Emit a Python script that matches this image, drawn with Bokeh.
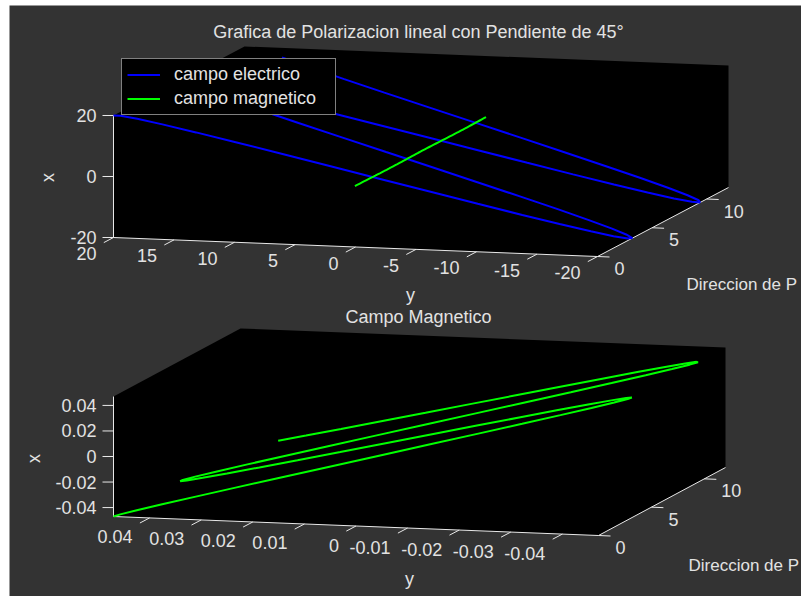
import numpy as np
from bokeh.plotting import figure
from bokeh.models import Range1d, Legend, LegendItem
from bokeh.embed import file_html
from bokeh.resources import INLINE
from bokeh.core.properties import value

# ---------------- data ----------------
z = [0.0, 0.2, 0.4, 0.6, 0.8, 1.0, 1.2, 1.4, 1.6, 1.8, 2.0, 2.2, 2.4, 2.6, 2.8,
     3.0, 3.2, 3.4, 3.6, 3.8, 4.0, 4.2, 4.4, 4.6, 4.8, 5.0, 5.2, 5.4, 5.6, 5.8,
     6.0, 6.2, 6.4, 6.6, 6.8, 7.0, 7.2, 7.4, 7.6, 7.8, 8.0, 8.2, 8.4, 8.6, 8.8,
     9.0, 9.2, 9.4, 9.6, 9.8, 10.0, 10.2, 10.4, 10.6, 10.8, 11.0, 11.2, 11.4,
     11.6, 11.8, 12.0]

# electric field (x = vertical axis, y = horizontal axis)
e_x = [20.0, 19.6, 18.4, 16.5, 13.9, 10.8, 7.2, 3.4, -0.6, -4.5, -8.3, -11.8,
       -14.7, -17.1, -18.8, -19.8, -20.0, -19.3, -17.9, -15.8, -13.1, -9.8,
       -6.1, -2.2, 1.8, 5.7, 9.4, 12.7, 15.5, 17.7, 19.2, 19.9, 19.9, 19.0,
       17.4, 15.1, 12.2, 8.8, 5.0, 1.1, -2.9, -6.8, -10.4, -13.6, -16.2, -18.2,
       -19.5, -20.0, -19.7, -18.6, -16.8, -14.3, -11.2, -7.7, -3.9, 0.1, 4.1,
       7.9, 11.4, 14.4, 16.9]
e_y = [20.0, 19.6, 18.4, 16.5, 13.9, 10.8, 7.2, 3.4, -0.6, -4.5, -8.3, -11.8,
       -14.7, -17.1, -18.8, -19.8, -20.0, -19.3, -17.9, -15.8, -13.1, -9.8,
       -6.1, -2.2, 1.8, 5.7, 9.4, 12.7, 15.5, 17.7, 19.2, 19.9, 19.9, 19.0,
       17.4, 15.1, 12.2, 8.8, 5.0, 1.1, -2.9, -6.8, -10.4, -13.6, -16.2, -18.2,
       -19.5, -20.0, -19.7, -18.6, -16.8, -14.3, -11.2, -7.7, -3.9, 0.1, 4.1,
       7.9, 11.4, 14.4, 16.9]

# magnetic field
b_x = [-0.0470, -0.0461, -0.0433, -0.0388, -0.0327, -0.0254, -0.0170, -0.0080,
       0.0014, 0.0107, 0.0196, 0.0277, 0.0347, 0.0403, 0.0443, 0.0465, 0.0469,
       0.0454, 0.0421, 0.0372, 0.0307, 0.0230, 0.0144, 0.0053, -0.0041,
       -0.0133, -0.0220, -0.0298, -0.0365, -0.0416, -0.0451, -0.0468, -0.0467,
       -0.0447, -0.0409, -0.0354, -0.0286, -0.0206, -0.0118, -0.0025, 0.0068,
       0.0159, 0.0244, 0.0319, 0.0381, 0.0428, 0.0458, 0.0470, 0.0463, 0.0437,
       0.0394, 0.0336, 0.0264, 0.0181, 0.0091, -0.0002, -0.0095, -0.0185,
       -0.0267, -0.0339, -0.0397]
b_y = [0.0470, 0.0461, 0.0433, 0.0388, 0.0327, 0.0254, 0.0170, 0.0080,
       -0.0014, -0.0107, -0.0196, -0.0277, -0.0347, -0.0403, -0.0443, -0.0465,
       -0.0469, -0.0454, -0.0421, -0.0372, -0.0307, -0.0230, -0.0144, -0.0053,
       0.0041, 0.0133, 0.0220, 0.0298, 0.0365, 0.0416, 0.0451, 0.0468, 0.0467,
       0.0447, 0.0409, 0.0354, 0.0286, 0.0206, 0.0118, 0.0025, -0.0068,
       -0.0159, -0.0244, -0.0319, -0.0381, -0.0428, -0.0458, -0.0470, -0.0463,
       -0.0437, -0.0394, -0.0336, -0.0264, -0.0181, -0.0091, 0.0002, 0.0095,
       0.0185, 0.0267, 0.0339, 0.0397]

# ticks
top_x_ticks = [-20, 0, 20]
top_x_labels = ["-20", "0", "20"]
top_y_ticks = [20, 15, 10, 5, 0, -5, -10, -15, -20]
top_y_labels = ["20", "15", "10", "5", "0", "-5", "-10", "-15", "-20"]
bot_x_ticks = [-0.04, -0.02, 0, 0.02, 0.04]
bot_x_labels = ["-0.04", "-0.02", "0", "0.02", "0.04"]
bot_y_ticks = [0.04, 0.03, 0.02, 0.01, 0, -0.01, -0.02, -0.03, -0.04]
bot_y_labels = ["0.04", "0.03", "0.02", "0.01", "0", "-0.01", "-0.02", "-0.03", "-0.04"]
z_ticks = [0, 5, 10]
z_labels = ["0", "5", "10"]

# ---------------- styling / layout ----------------
BG = "#333333"
TXT = "#e2e2e2"
AXC = "#e8e8e8"
FONT = "Liberation Sans"
FS = "18px"

TOP = dict(p0=(113, 237), u=(484, 19), v=(0, -122), w=(131, -69),
           ylim=(-20, 20), xlim=(-20, 20), zlim=(0, 12))
BOT = dict(p0=(113, 516), u=(485, 19), v=(0, -120), w=(127, -68),
           ylim=(-0.047, 0.047), xlim=(-0.047, 0.047), zlim=(0, 12))


def proj(ax, Y, X, Z):
    Y = np.asarray(Y, float)
    X = np.asarray(X, float)
    Z = np.asarray(Z, float)
    fy = (ax["ylim"][1] - Y) / (ax["ylim"][1] - ax["ylim"][0])
    fx = (X - ax["xlim"][0]) / (ax["xlim"][1] - ax["xlim"][0])
    fz = (Z - ax["zlim"][0]) / (ax["zlim"][1] - ax["zlim"][0])
    sx = ax["p0"][0] + fy * ax["u"][0] + fx * ax["v"][0] + fz * ax["w"][0]
    sy = ax["p0"][1] + fy * ax["u"][1] + fx * ax["v"][1] + fz * ax["w"][1]
    return sx, sy


p = figure(width=801, height=596, x_range=Range1d(9, 801), y_range=Range1d(596, 5),
           output_backend="svg", toolbar_location=None,
           x_axis_type=None, y_axis_type=None,
           min_border_left=9, min_border_top=5, min_border_right=0, min_border_bottom=0,
           background_fill_color=BG, border_fill_color="white", outline_line_color=None)
p.grid.visible = False


def txt(xs, ys, texts, align, angle=0.0, size=FS):
    p.text(x=list(xs), y=list(ys), text=list(texts), text_align=align,
           text_baseline="middle", text_color=TXT, text_font=value(FONT),
           text_font_size=size, angle=angle)


def draw_axes(ax, xt, xl, yt, yl, ylab_dy):
    y0, y1 = ax["ylim"]
    x0, x1 = ax["xlim"]
    z0, z1 = ax["zlim"]
    cy = [y1, y1, y1, y0, y0, y0]
    cx = [x0, x1, x1, x1, x0, x0]
    cz = [z0, z0, z1, z1, z1, z0]
    hx, hy = proj(ax, cy, cx, cz)
    p.patch(list(hx), list(hy), fill_color="black", line_color=None)
    # axis lines
    ax_y = [y1, y1, y0, y0]
    ax_x = [x1, x0, x0, x0]
    ax_z = [z0, z0, z0, z1]
    lx, ly = proj(ax, ax_y, ax_x, ax_z)
    p.line(list(lx), list(ly), line_color=AXC, line_width=1)
    # vertical ticks
    sx, sy = proj(ax, [y1] * len(xt), xt, [z0] * len(xt))
    p.segment(list(sx), list(sy), list(sx - 11), list(sy), line_color=AXC, line_width=1)
    txt(sx - 17, sy, xl, "right")
    # horizontal (y) ticks
    sx, sy = proj(ax, yt, [x0] * len(yt), [z0] * len(yt))
    p.segment(list(sx), list(sy), list(sx - 9.7), list(sy + 5.1), line_color=AXC, line_width=1)
    txt(sx - 17, sy + ylab_dy, yl, "right")
    # depth ticks
    sx, sy = proj(ax, [y0] * len(z_ticks), [x0] * len(z_ticks), z_ticks)
    p.segment(list(sx), list(sy), list(sx + 12), list(sy + 0.5), line_color=AXC, line_width=1)
    txt(sx + 17, sy + 12, z_labels, "left")


draw_axes(TOP, top_x_ticks, top_x_labels, top_y_ticks, top_y_labels, 16)
draw_axes(BOT, bot_x_ticks, bot_x_labels, bot_y_ticks, bot_y_labels, 19)

# top plot curves
ex_s, ey_s = proj(TOP, e_y, e_x, z)
r_e = p.line(list(ex_s), list(ey_s), line_color="#0000ff", line_width=2)
bx_s, by_s = proj(TOP, b_y, b_x, z)
r_b = p.line(list(bx_s), list(by_s), line_color="#00ff00", line_width=2)

# bottom plot curve
bx2, by2 = proj(BOT, b_y, b_x, z)
p.line(list(bx2), list(by2), line_color="#00ff00", line_width=2)

# titles & axis labels
txt([418], [31], ["Grafica de Polarizacion lineal con Pendiente de 45°"], "center")
txt([418], [316], ["Campo Magnetico"], "center")
txt([47], [177], ["x"], "center", angle=np.pi / 2)
txt([33], [458], ["x"], "center", angle=np.pi / 2)
txt([410], [294], ["y"], "center")
txt([409], [578], ["y"], "center")
txt([686], [284], ["Direccion de P"], "left", size="17px")
txt([688], [565], ["Direccion de P"], "left", size="17px")

legend = Legend(items=[LegendItem(label="campo electrico", renderers=[r_e]),
                       LegendItem(label="campo magnetico", renderers=[r_b])],
                location=(112, 481), orientation="vertical",
                background_fill_color="black", background_fill_alpha=1.0,
                border_line_color="white", border_line_width=1,
                label_text_color=TXT, label_text_font=FONT, label_text_font_size=FS,
                glyph_width=33, glyph_height=21, label_height=21, label_standoff=14,
                label_width=156, spacing=3, padding=5, margin=0)
p.add_layout(legend, "center")

open("out.html", "w").write(file_html(p, INLINE))
